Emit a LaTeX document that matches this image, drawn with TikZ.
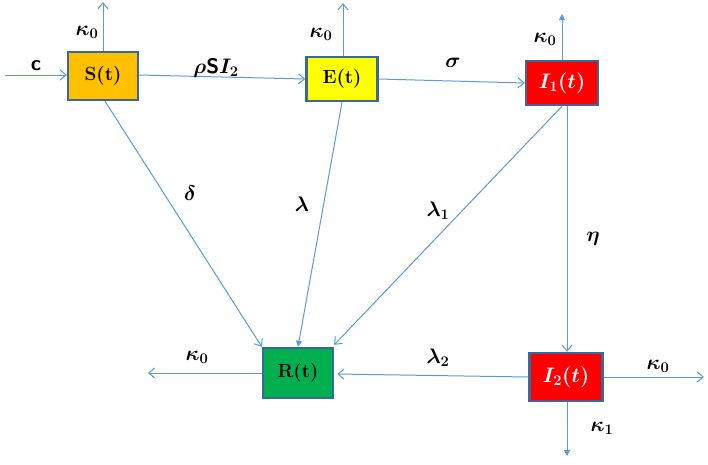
\RequirePackage{fix-cm}
\documentclass[tikz,border=0pt]{standalone}
\usepackage{amsmath,bm}
\usetikzlibrary{arrows.meta}
\definecolor{lineblue}{HTML}{5B9BD5}
\definecolor{boxedge}{HTML}{3A6898}
\definecolor{sorange}{HTML}{FFC000}
\definecolor{eyellow}{HTML}{FFFF00}
\definecolor{ired}{HTML}{FF0000}
\definecolor{rgreen}{HTML}{00B050}
\tikzset{
  comp/.style={draw=boxedge, line width=2.4pt, minimum width=70pt, minimum height=46pt, inner sep=0pt, font=\fontsize{19}{21}\selectfont\bfseries},
  mcomp/.style={comp, fill=ired, text=white, font=\fontsize{21}{23}\selectfont\bfseries},
  flow/.style={draw=lineblue, line width=1pt, -{Straight Barb[length=6pt,width=10pt]}},
  flowf/.style={draw=lineblue, line width=1pt, -{Triangle[length=6pt,width=6pt]}},
  lab/.style={font=\fontsize{21}{23}\selectfont, inner sep=0pt}
}
\begin{document}
\begin{tikzpicture}[x=1pt,y=-1pt]
\useasboundingbox (0,0) rectangle (708,464);
% compartments
\node[comp, fill=sorange, minimum width=70pt, minimum height=48pt] (S) at (103,76) {S(t)};
\node[comp, fill=eyellow, minimum width=71pt, minimum height=44pt] (E) at (342,79) {E(t)};
\node[mcomp, minimum width=72pt, minimum height=44pt] (I1) at (562,83) {$\bm{I_1(t)}$};
\node[comp, fill=rgreen, minimum width=70pt, minimum height=50pt] (R) at (298,373) {R(t)};
\node[mcomp, minimum width=73pt, minimum height=48pt] (I2) at (566,377) {$\bm{I_2(t)}$};
% free ends
\coordinate (cin) at (5,75);
\coordinate (Sout) at (103,2);
\coordinate (Eout) at (343,3);
\coordinate (I1out) at (562,14);
\coordinate (Rout) at (148,373);
\coordinate (I2out) at (704,377);
\coordinate (I2dn) at (567,456);
% connectors
\draw[flow] (cin) -- (S.west |- cin);
\draw[flow] (S.north) -- (Sout);
\draw[flow] (E.north -| Eout) -- (Eout);
\draw[flowf] (I1.north) -- (I1out);
\draw[flow] ([yshift=1pt]S.east) -- (E.west);
\draw[flow] (E.east) -- ([yshift=0pt]I1.west);
\draw[flow] ([xshift=2pt]S.south) -- (R.north west);
\draw[flowf] (E.south) -- (R.north);
\draw[flow] (I1.south) -- ([yshift=2pt]R.north east);
\draw[flow] ([xshift=5pt]I1.south) -- ([xshift=1pt]I2.north);
\draw[flow] (I2.west) -- ([xshift=3pt,yshift=-1pt]R.east);
\draw[flow] (R.west) -- (Rout);
\draw[flow] (I2.east) -- (I2out);
\draw[flowf] ([xshift=1pt]I2.south) -- (I2dn);
% labels
\node[lab] (lc) at (36,66) {\sffamily\bfseries c};
\node[lab] (lk1) at (87,32) {$\bm{\kappa_0}$};
\node[lab] (lk2) at (321,34) {$\bm{\kappa_0}$};
\node[lab] (lk3) at (545,39) {$\bm{\kappa_0}$};
\node[lab] (lrho) at (216,68) {$\bm{\rho}\textbf{\sffamily S}\bm{I_2}$};
\node[lab] (lsig) at (453,63) {$\bm{\sigma}$};
\node[lab] (ldel) at (190,193) {$\bm{\delta}$};
\node[lab] (llam) at (302,204) {$\bm{\lambda}$};
\node[lab] (llam1) at (438,211) {$\bm{\lambda_1}$};
\node[lab] (leta) at (593,239) {$\bm{\eta}$};
\node[lab] (lk4) at (197,357) {$\bm{\kappa_0}$};
\node[lab] (llam2) at (438,358) {$\bm{\lambda_2}$};
\node[lab] (lk5) at (658,366) {$\bm{\kappa_0}$};
\node[lab] (lk6) at (602,428) {$\bm{\kappa_1}$};
\end{tikzpicture}
\end{document}
